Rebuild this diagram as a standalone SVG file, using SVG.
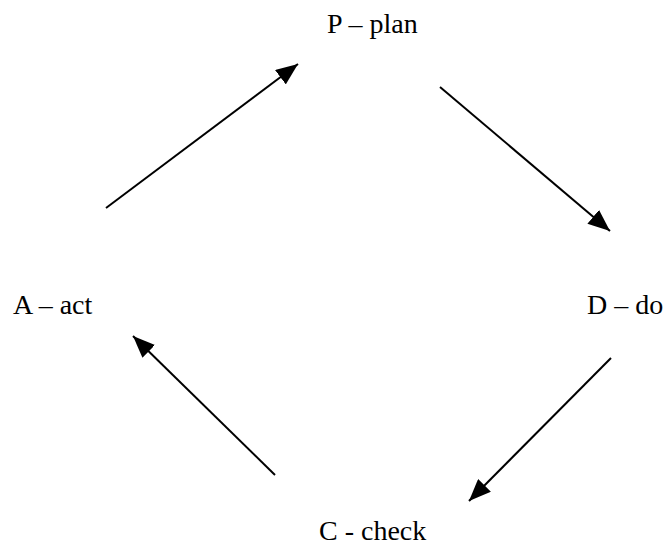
<svg xmlns="http://www.w3.org/2000/svg" width="664" height="554" viewBox="0 0 664 554">
<style>
.lbl{font-family:"Liberation Serif","Times New Roman",serif;font-size:28px;fill:#000}
.c{stroke:#000;stroke-width:2;fill:none;marker-end:url(#ah)}
</style>
<defs>
<marker id="ah" markerUnits="userSpaceOnUse" markerWidth="24" markerHeight="18" refX="22" refY="9" orient="auto">
<path d="M0,0 L22,9 L0,18 Z" fill="#000"/>
</marker>
</defs>
<rect width="664" height="554" fill="#fff"/>
<g id="connectors">
<line class="c" x1="106" y1="208" x2="298" y2="64"/>
<line class="c" x1="440" y1="87" x2="610" y2="231"/>
<line class="c" x1="611" y1="358" x2="469" y2="501"/>
<line class="c" x1="275" y1="475" x2="133" y2="336"/>
</g>
<g id="plan"><text class="lbl" x="327" y="33">P – plan</text></g>
<g id="do"><text class="lbl" x="587" y="314">D – do</text></g>
<g id="check"><text class="lbl" x="319" y="540">C - check</text></g>
<g id="act"><text class="lbl" x="13" y="314">A – act</text></g>
</svg>
